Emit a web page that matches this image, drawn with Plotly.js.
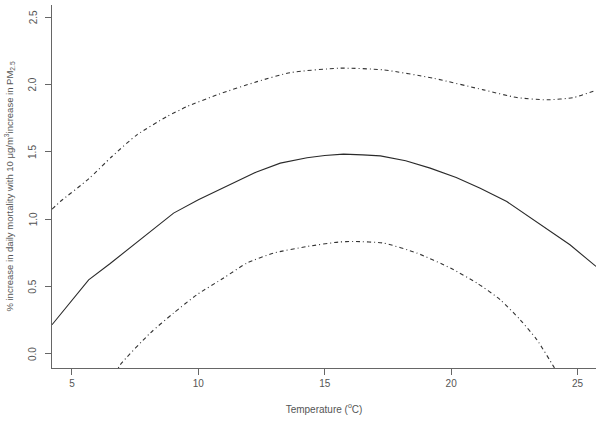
<!DOCTYPE html>
<html>
<head>
<meta charset="utf-8">
<script src="https://cdn.plot.ly/plotly-3.0.1.min.js"></script>
<style>html,body{margin:0;padding:0;background:#fff;}</style>
</head>
<body>
<div id="chart" style="width:602px;height:421px;"></div>
<script>
// Estimate (solid)
const estX = [4.21, 5.66, 6.5, 7.71, 9.02, 10.0, 11.26, 11.66, 12.3, 13.24, 14.3, 15.0, 15.74, 16.5, 17.2, 18.2, 19.17, 20.2, 21.15, 22.2, 23.26, 24.7, 25.73];
const estY = [0.217, 0.551, 0.67, 0.848, 1.046, 1.145, 1.256, 1.293, 1.352, 1.417, 1.457, 1.474, 1.484, 1.478, 1.471, 1.435, 1.38, 1.31, 1.231, 1.132, 0.996, 0.811, 0.65];
// Upper 95% limit (dot-dash)
const upX = [4.21, 4.54, 5.66, 6.58, 7.57, 8.76, 9.55, 10.74, 12.32, 13.64, 15.61, 17.33, 19.3, 21.28, 22.6, 23.79, 24.84, 25.73];
const upY = [1.075, 1.132, 1.30, 1.466, 1.627, 1.763, 1.837, 1.924, 2.022, 2.089, 2.122, 2.109, 2.047, 1.961, 1.904, 1.887, 1.904, 1.958];
// Lower 95% limit (dot-dash)
const loX = [6.7, 6.91, 8.1, 9.02, 9.94, 11.0, 11.92, 12.97, 14.3, 15.55, 16.14, 17.33, 18.65, 19.97, 21.02, 21.94, 22.73, 23.39, 24.05, 24.2];
const loY = [-0.15, -0.08, 0.156, 0.304, 0.44, 0.564, 0.675, 0.749, 0.798, 0.831, 0.835, 0.823, 0.749, 0.638, 0.527, 0.403, 0.254, 0.106, -0.092, -0.14];

const xTicks = [5, 10, 15, 20, 25];
const yTicks = [0.0, 0.5, 1.0, 1.5, 2.0, 2.5];
const yTickText = ['0.0', '0.5', '1.0', '1.5', '2.0', '2.5'];

const traces = [
  {x: estX, y: estY, mode: 'lines', line: {color: '#2a2a2a', width: 1.1, shape: 'linear'}, hoverinfo: 'skip'},
  {x: upX, y: upY, mode: 'lines', line: {color: '#333', width: 1.1, dash: '4px,3px,1px,3px', shape: 'spline', smoothing: 0.6}, hoverinfo: 'skip'},
  {x: loX, y: loY, mode: 'lines', line: {color: '#333', width: 1.1, dash: '4px,3px,1px,3px', shape: 'spline', smoothing: 0.6}, hoverinfo: 'skip'}
];

const axisFont = {family: 'Liberation Sans, Arial, sans-serif', size: 10, color: '#555'};

// y tick labels drawn rotated next to the axis (R style, parallel to axis)
const yLabelAnnots = yTicks.map((v, i) => ({
  xref: 'paper', yref: 'y', x: 0, y: v,
  text: yTickText[i], textangle: -90,
  showarrow: false, xanchor: 'center', yanchor: 'middle',
  xshift: -19, font: axisFont
}));

const layout = {
  width: 602, height: 421,
  margin: {l: 52, r: 6, t: 5, b: 53},
  paper_bgcolor: '#fff', plot_bgcolor: '#fff',
  showlegend: false,
  font: axisFont,
  annotations: yLabelAnnots,
  xaxis: {
    range: [4.21, 25.73],
    tickvals: xTicks, ticktext: xTicks.map(String),
    ticks: 'outside', ticklen: 6, tickcolor: '#666', tickwidth: 1,
    showline: true, linecolor: '#666', linewidth: 1,
    showgrid: false, zeroline: false,
    tickfont: axisFont,
    title: {text: 'Temperature (<sup>o</sup>C)', font: axisFont, standoff: 17}
  },
  yaxis: {
    range: [-0.104, 2.591],
    tickvals: yTicks, showticklabels: false,
    ticks: 'outside', ticklen: 6, tickcolor: '#666', tickwidth: 1,
    showline: true, linecolor: '#666', linewidth: 1,
    showgrid: false, zeroline: false,
    automargin: false,
    title: {text: '% increase in daily mortality with 10 \u03bcg/m<sup>3</sup>increase in PM<sub>2.5</sub>', font: {family: 'Liberation Sans, Arial, sans-serif', size: 9.5, color: '#555'}, standoff: 29}
  }
};

Plotly.newPlot('chart', traces, layout, {staticPlot: true, displayModeBar: false});
</script>
</body>
</html>
